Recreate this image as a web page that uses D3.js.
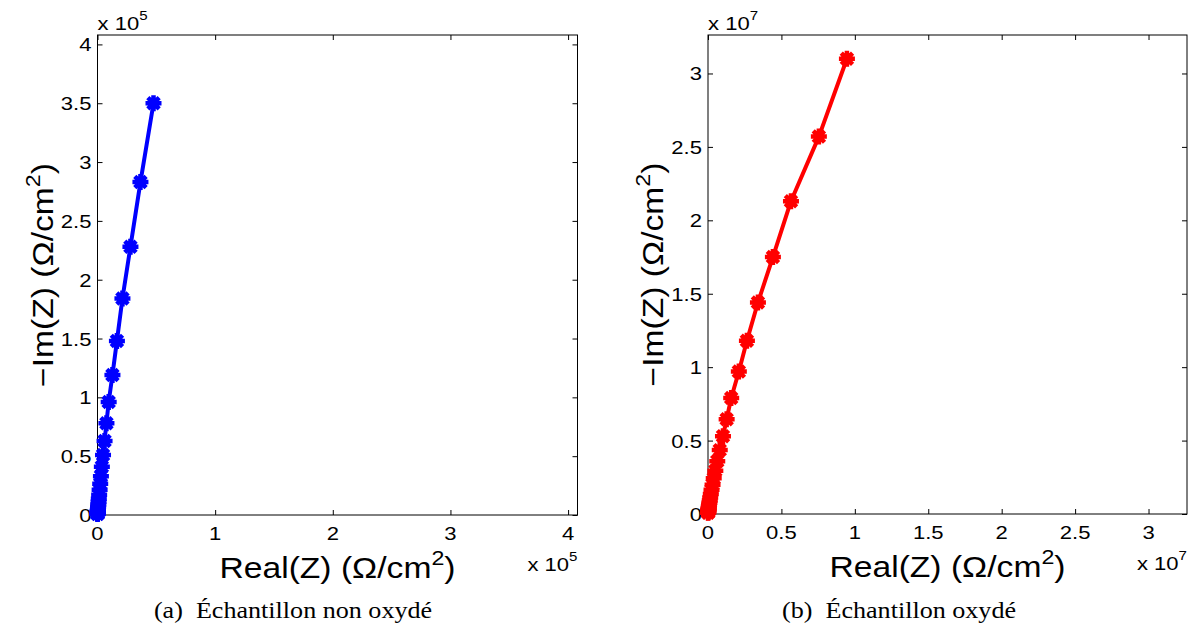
<!DOCTYPE html>
<html><head><meta charset="utf-8">
<script src="https://cdnjs.cloudflare.com/ajax/libs/d3/7.8.5/d3.min.js"></script>
<style>body{margin:0;background:#fff}svg{display:block}</style>
</head><body>
<svg id="chart" width="1194" height="640"></svg>
<script>
// Data (Ω/cm²)
const blueRe = [47600, 36500, 28000, 21200, 16500, 12700, 9500, 7600, 6000, 4700, 3700, 2900, 2300, 1800, 1400, 1100, 880, 690, 540, 430, 340, 270, 210, 170, 130, 100, 80, 60, 50];
const blueIm = [350000, 283000, 228000, 184000, 148000, 119000, 96000, 78000, 63000, 51000, 41000, 33000, 26500, 21400, 17200, 13900, 11200, 9000, 7300, 5900, 4700, 3800, 3100, 2500, 2000, 1600, 1300, 1000, 800];
const redRe = [9.46e6, 7.55e6, 5.65e6, 4.42e6, 3.40e6, 2.65e6, 2.10e6, 1.58e6, 1.27e6, 1.02e6, 8.0e5, 6.3e5, 5.0e5, 3.9e5, 3.1e5, 2.4e5, 1.9e5, 1.5e5, 1.2e5, 9.3e4, 7.3e4, 5.7e4, 4.5e4, 3.5e4, 2.7e4, 2.1e4, 1.7e4, 1.3e4, 1.0e4, 8e3, 6e3];
const redIm = [3.10e7, 2.57e7, 2.13e7, 1.75e7, 1.44e7, 1.18e7, 9.7e6, 7.9e6, 6.45e6, 5.3e6, 4.35e6, 3.6e6, 2.95e6, 2.43e6, 2.0e6, 1.65e6, 1.36e6, 1.12e6, 9.2e5, 7.6e5, 6.3e5, 5.2e5, 4.3e5, 3.5e5, 2.9e5, 2.4e5, 2.0e5, 1.6e5, 1.3e5, 1.1e5, 9e4];
const blueTicks = [0, 1e5, 2e5, 3e5, 4e5];
const blueYTicks = [0, 0.5e5, 1e5, 1.5e5, 2e5, 2.5e5, 3e5, 3.5e5, 4e5];
const redTicks = [0, 0.5e7, 1e7, 1.5e7, 2e7, 2.5e7, 3e7];
const captions = ["(a)\u2002\u00C9chantillon non oxyd\u00E9", "(b)\u2002\u00C9chantillon oxyd\u00E9"];

const svg = d3.select("#chart");
const SX = 1.16;
const FONT = "'Liberation Sans', Arial, Helvetica, sans-serif";

function txt(g, x, y, size, anchor, rot) {
  const t = g.append("text")
    .attr("transform", `translate(${x},${y})` + (rot ? ` rotate(${rot})` : "") + ` scale(${SX},1)`)
    .attr("text-anchor", anchor)
    .attr("font-family", FONT)
    .attr("font-size", size)
    .attr("fill", "#000");
  return t;
}

function panel(opts) {
  const {left, top, size, max, xTicks, yTicks, exp, re, im, color, caption, capX} = opts;
  const g = svg.append("g");
  const x = d3.scaleLinear().domain([0, max]).range([left, left + size]);
  const y = d3.scaleLinear().domain([0, max]).range([top + size, top]);
  const fmt = v => d3.format("~g")(+(v / Math.pow(10, exp)).toFixed(3));

  // Box
  g.append("rect").attr("x", left).attr("y", top).attr("width", size).attr("height", size)
    .attr("fill", "none").attr("stroke", "#000").attr("stroke-width", 1);

  // Axes (ticks inside, mirrored)
  const tl = 5;
  const axB = d3.axisBottom(x).tickValues(xTicks).tickSize(-tl).tickFormat("");
  const axT = d3.axisTop(x).tickValues(xTicks).tickSize(-tl).tickFormat("");
  const axL = d3.axisLeft(y).tickValues(yTicks).tickSize(-tl).tickFormat("");
  const axR = d3.axisRight(y).tickValues(yTicks).tickSize(-tl).tickFormat("");
  [[axB, `translate(0,${top + size})`], [axT, `translate(0,${top})`], [axL, `translate(${left},0)`], [axR, `translate(${left + size},0)`]]
    .forEach(([ax, tr]) => {
      const a = g.append("g").attr("transform", tr).call(ax);
      a.select(".domain").remove();
      a.selectAll("line").attr("stroke", "#000").attr("stroke-width", 1);
    });

  // Tick labels
  xTicks.forEach(v => txt(g, x(v), top + size + 25, 19, "middle").text(fmt(v)));
  yTicks.forEach(v => txt(g, left - 6, y(v) + 7, 19, "end").text(fmt(v)));

  // Exponent labels
  const e1 = txt(g, left, top - 5, 19, "start");
  e1.append("tspan").text("x 10");
  e1.append("tspan").attr("font-size", 13).attr("dy", -10).text(exp);
  const e2 = txt(g, left + size, top + size + 56, 19, "end");
  e2.append("tspan").text("x 10");
  e2.append("tspan").attr("font-size", 13).attr("dy", -10).text(exp);

  // Axis labels
  const xl = txt(g, left + size / 2, top + size + 63, 29, "middle");
  xl.append("tspan").text("Real(Z) (\u03A9/cm");
  xl.append("tspan").attr("font-size", 20).attr("dy", -13).text("2");
  xl.append("tspan").attr("dy", 13).text(")");
  const yl = txt(g, left - 45, top + size / 2, 29, "middle", -90);
  yl.append("tspan").text("\u2212Im(Z) (\u03A9/cm");
  yl.append("tspan").attr("font-size", 20).attr("dy", -13).text("2");
  yl.append("tspan").attr("dy", 13).text(")");

  // Data
  const pts = re.map((r, i) => [r, im[i]]);
  g.append("path").datum(pts)
    .attr("d", d3.line().x(d => x(d[0])).y(d => y(d[1])))
    .attr("fill", "none").attr("stroke", color).attr("stroke-width", 4).attr("stroke-linejoin", "round");
  const r = 8, rd = r * Math.SQRT1_2;
  const star = `M${-r},0L${r},0M0,${-r}L0,${r}M${-rd},${-rd}L${rd},${rd}M${-rd},${rd}L${rd},${-rd}`;
  g.selectAll("path.mk").data(pts).join("path").attr("class", "mk")
    .attr("transform", d => `translate(${x(d[0])},${y(d[1])})`)
    .attr("d", star).attr("fill", "none").attr("stroke", color).attr("stroke-width", 4.5);
  g.selectAll("circle.mk").data(pts).join("circle").attr("class", "mk")
    .attr("cx", d => x(d[0])).attr("cy", d => y(d[1])).attr("r", 5).attr("fill", color);

  // Caption
  svg.append("text")
    .attr("transform", `translate(${capX},618) scale(${SX},1)`)
    .attr("text-anchor", "middle")
    .attr("font-family", "'Liberation Serif', 'Times New Roman', Times, serif")
    .attr("font-size", 22.5).attr("fill", "#000")
    .text(caption);
}

panel({left: 97.5, top: 35, size: 480, max: 4.08e5, xTicks: blueTicks, yTicks: blueYTicks, exp: 5,
  re: blueRe, im: blueIm, color: "#0000ff", caption: captions[0], capX: 293});
panel({left: 708, top: 35, size: 479, max: 3.262e7, xTicks: redTicks, yTicks: redTicks, exp: 7,
  re: redRe, im: redIm, color: "#ff0000", caption: captions[1], capX: 899});
</script>
</body></html>
